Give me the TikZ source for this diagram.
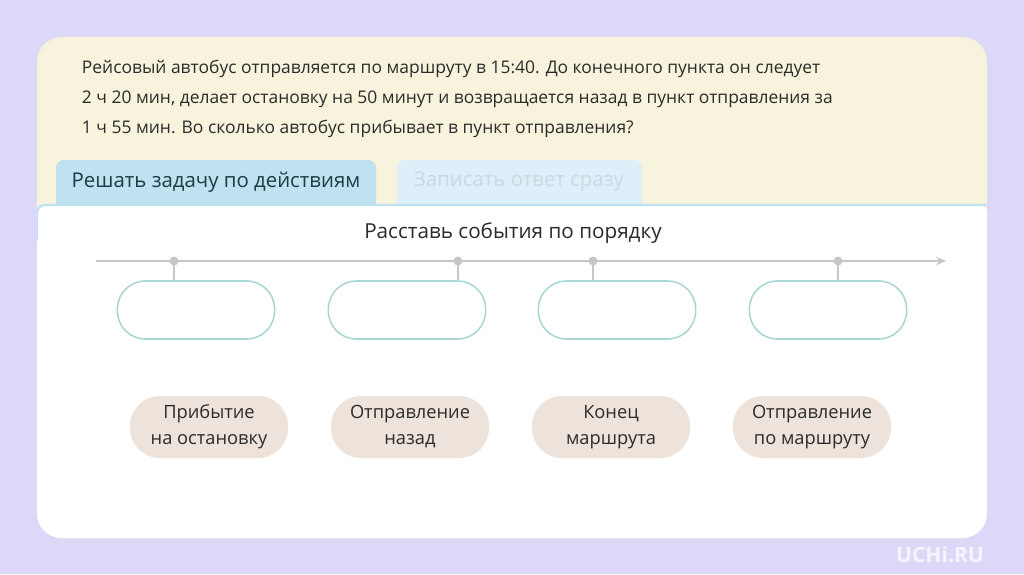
\documentclass[tikz,border=0pt]{standalone}
\usepackage{fontspec}
\setmainfont{Open Sans}
\usetikzlibrary{arrows.meta,positioning}
\definecolor{bgcol}{HTML}{DDD8F8}
\definecolor{creamcol}{HTML}{F8F3DC}
\definecolor{tabcol}{HTML}{BEE2F0}
\definecolor{tabpale}{HTML}{DDEFF8}
\definecolor{tabtext}{HTML}{C9D9E1}
\definecolor{inkcol}{HTML}{2B2B2B}
\definecolor{tabink}{HTML}{1F3B45}
\definecolor{axiscol}{HTML}{C6C6C6}
\definecolor{slotcol}{HTML}{A9D6D6}
\definecolor{chipcol}{HTML}{EDE3DA}
\definecolor{logocol}{HTML}{F6F4FE}

\tikzset{
  slot/.style={draw=slotcol,line width=1.1pt,fill=white,rounded corners=0.7cm,
    minimum width=3.93cm,minimum height=1.45cm},
  chip/.style={fill=chipcol,rounded corners=0.75cm,minimum width=3.95cm,
    minimum height=1.55cm,align=center,text=inkcol,
    font=\fontsize{13}{18.5}\selectfont},
  tick/.style={axiscol,line width=1.3pt}
}

\begin{document}
\begin{tikzpicture}[x=0.025cm,y=-0.025cm,>={Stealth[length=7pt,width=6pt]}]
  \useasboundingbox (0,0) rectangle (1024,574);
  \fill[bgcol] (0,0) rectangle (1024,574);
  % card
  \fill[creamcol,rounded corners=0.62cm] (37,37) rectangle (987,538);
  \fill[tabcol,rounded corners=0.2cm] (56,160) rectangle (376,220);
  \fill[tabpale,rounded corners=0.2cm] (397,160) rectangle (642,220);
  \begin{scope}
    \clip[rounded corners=0.62cm] (37,37) rectangle (987,538);
    \fill[white,rounded corners=0.2cm] (37,205) rectangle (987,580);
    \draw[tabcol,line width=1.6pt,rounded corners=0.2cm] (37,240) |- (990,205);
  \end{scope}

  \node[anchor=west,align=left,text=inkcol,font=\fontsize{12.4}{21.5}\selectfont]
    (task) at (77,99) {Рейсовый автобус отправляется по маршруту в 15:40. До конечного пункта он следует\\
    2 ч 20 мин, делает остановку на 50 минут и возвращается назад в пункт отправления за\\
    1 ч 55 мин. Во сколько автобус прибывает в пункт отправления?};
  \node[text=tabink,font=\fontsize{14.5}{17}\selectfont] (tabsteps) at (216,182) {Решать задачу по действиям};
  \node[text=tabtext,font=\fontsize{14.5}{17}\selectfont] (tabanswer) at (519,182) {Записать ответ сразу};
  \node[text=inkcol,font=\fontsize{14.7}{17}\selectfont] (title) at (513,233) {Расставь события по порядку};

  % time axis
  \coordinate (axL) at (96,261);
  \coordinate (axR) at (946,261);
  \draw[->,tick] (axL) -- (axR);
  \foreach \i/\dx/\sx in {1/174/196,2/458/407,3/593/617,4/838/828} {
    \coordinate (t\i) at (\dx,261);
    \node[slot] (ev\i) at (\sx,310) {};
    \draw[tick] (t\i) -- (t\i |- ev\i.north);
    \fill[axiscol] (t\i) circle (3.2pt);
  }

  % events to place
  \node[chip] (arrive) at (209,427) {Прибытие\\на остановку};
  \node[chip] (goback) at (410,427) {Отправление\\назад};
  \node[chip] (routeend) at (611,427) {Конец\\маршрута};
  \node[chip] (goroute) at (812,427) {Отправление\\по маршруту};

  \node[text=logocol,font=\fontsize{15}{17}\bfseries\selectfont] (logo) at (940,555) {UCHi.RU};
\end{tikzpicture}
\end{document}
